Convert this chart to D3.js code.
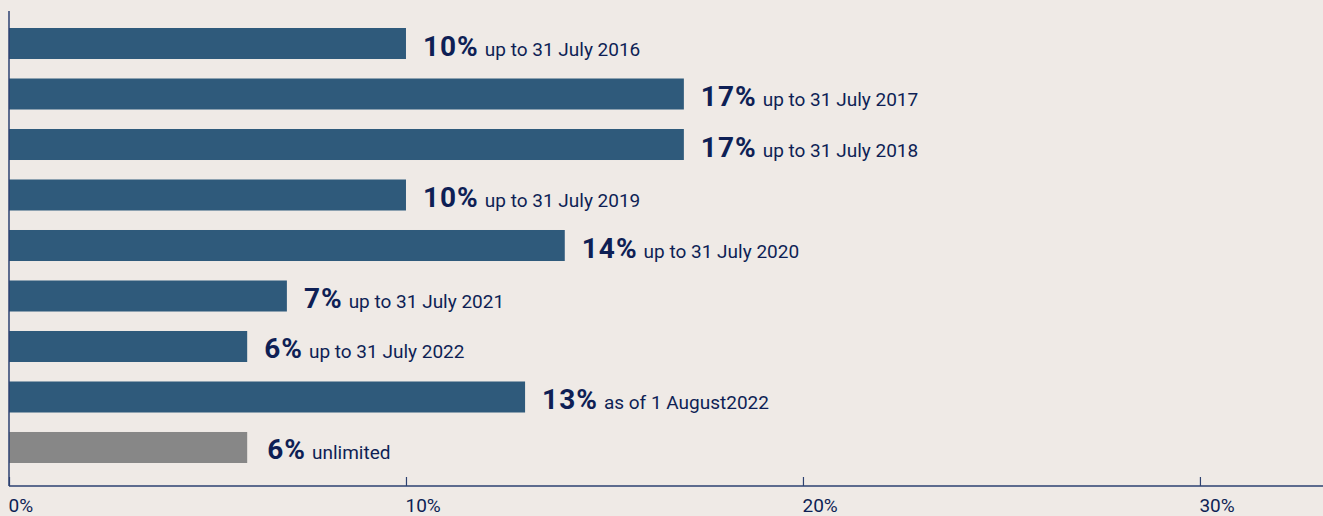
<!DOCTYPE html>
<html>
<head>
<meta charset="utf-8">
<script src="https://cdn.jsdelivr.net/npm/d3@7"></script>
<style>
  html, body { margin: 0; padding: 0; background: #efeae6; }
  svg { display: block; font-family: Roboto, "Noto Sans", sans-serif; }
</style>
</head>
<body>
<svg id="chart" width="1323" height="516"></svg>
<script>
// values in percent
const rates = [10, 17, 17, 10, 14, 7, 6, 13, 6]
const periods = [
  'up to 31 July 2016',
  'up to 31 July 2017',
  'up to 31 July 2018',
  'up to 31 July 2019',
  'up to 31 July 2020',
  'up to 31 July 2021',
  'up to 31 July 2022',
  'as of 1 August2022',
  'unlimited'
]
const kinds = ['fixed', 'fixed', 'fixed', 'fixed', 'fixed', 'fixed', 'fixed', 'fixed', 'open']
const ticks = [0, 10, 20, 30]

const colors = { fixed: '#2f5a7b', open: '#878787' }
const ink = '#0e1f55'
const axisColor = '#2d4170'

const svg = d3.select('#chart')

const x = d3.scaleLinear().domain([0, 33.1]).range([9, 1323])
const y = d3.scaleBand()
  .domain(d3.range(rates.length))
  .range([28, 463])
  .paddingInner(0.386)
  .paddingOuter(0)

// bars
svg.selectAll('rect.bar')
  .data(rates)
  .enter()
    .append('rect')
    .attr('class', 'bar')
    .attr('x', x(0))
    .attr('y', (d, i) => y(i))
    .attr('width', d => x(d) - x(0))
    .attr('height', y.bandwidth())
    .attr('fill', (d, i) => colors[kinds[i]])

// labels next to each bar
const labels = svg.selectAll('text.label')
  .data(rates)
  .enter()
    .append('text')
    .attr('class', 'label')
    .attr('x', (d, i) => x(d) + (kinds[i] == 'open' ? 20 : 17))
    .attr('y', (d, i) => y(i) + y.bandwidth() / 2 + 12)
    .attr('fill', ink)

labels.append('tspan')
  .style('font-size', '28px')
  .style('font-weight', 'bold')
  .style('letter-spacing', '1px')
  .text(d => d + '%')

labels.append('tspan')
  .attr('dx', 6)
  .style('font-size', '19px')
  .text((d, i) => periods[i])

// axes
const xAxis = svg.append('g')
  .attr('transform', `translate(0,${486})`)
  .call(d3.axisBottom(x).tickValues(ticks).tickSize(-9).tickFormat(d => d + '%'))

xAxis.select('.domain').attr('d', `M${x(0)},0H1323`).attr('stroke', axisColor).attr('stroke-width', 1.5)
xAxis.selectAll('.tick line').attr('stroke', axisColor).attr('stroke-width', 1.2)
xAxis.selectAll('.tick text')
  .attr('fill', ink)
  .attr('text-anchor', 'start')
  .attr('dx', -1)
  .attr('y', 26)
  .attr('dy', 0)
  .style('font-family', 'Roboto, sans-serif')
  .style('font-size', '19px')

svg.append('line')
  .attr('x1', x(0)).attr('x2', x(0))
  .attr('y1', 11).attr('y2', 486)
  .attr('stroke', axisColor)
  .attr('stroke-width', 1.5)
</script>
</body>
</html>
